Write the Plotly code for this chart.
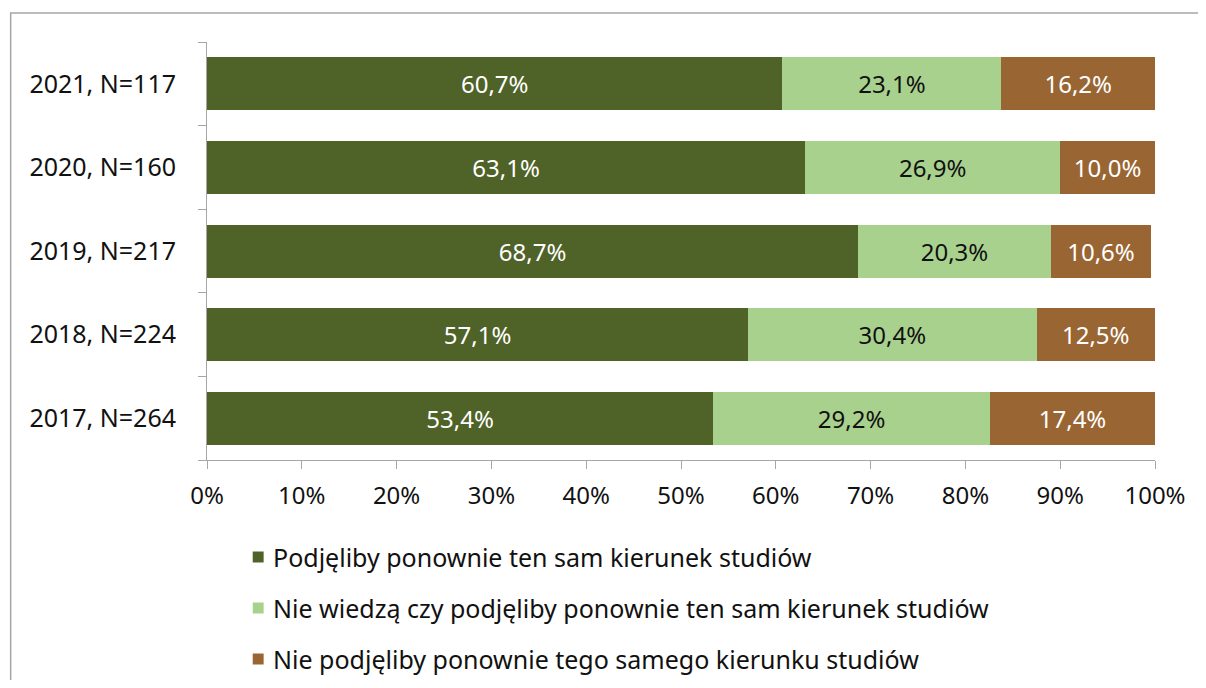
import plotly.graph_objects as go

categories = ["2017, N=264", "2018, N=224", "2019, N=217", "2020, N=160", "2021, N=117"]
series_names = [
    "Podjęliby ponownie ten sam kierunek studiów",
    "Nie wiedzą czy podjęliby ponownie ten sam kierunek studiów",
    "Nie podjęliby ponownie tego samego kierunku studiów",
]
same = [53.4, 57.1, 68.7, 63.1, 60.7]
unsure = [29.2, 30.4, 20.3, 26.9, 23.1]
not_again = [17.4, 12.5, 10.6, 10.0, 16.2]
x_ticks = [0, 10, 20, 30, 40, 50, 60, 70, 80, 90, 100]
x_tick_labels = [f"{v}%" for v in x_ticks]

colors = ["#4F6228", "#A9D18E", "#996633"]
text_colors = ["#FFFFFF", "#111111", "#FFFFFF"]
FONT = "Noto Sans"
FS = 24
TXT = "#111111"

# figure geometry (page body adds an 8px margin)
W, H = 1190, 672
ML, MR, MT, MB = 199, 37, 34, 220
plot_w = W - ML - MR
plot_h = H - MT - MB

fig = go.Figure()
for i, (name, vals) in enumerate(zip(series_names, [same, unsure, not_again])):
    fig.add_trace(go.Bar(
        y=categories, x=vals, name=name, orientation="h",
        marker=dict(color=colors[i], line=dict(width=0)),
        text=[f"{v:.1f}%".replace(".", ",") for v in vals],
        textposition="inside", insidetextanchor="middle",
        textfont=dict(family=FONT, size=FS, color=text_colors[i]),
        constraintext="none",
        showlegend=False,
        hoverinfo="skip",
    ))

# outer chart border
shapes = [dict(
    type="rect", xref="paper", yref="paper",
    x0=-0.2071, x1=1.2, y0=-1.0, y1=1.0694,
    line=dict(color="#a6a6a6", width=1.5), fillcolor="rgba(0,0,0,0)",
    layer="below",
)]
# manual legend (vertical list below the plot)
annotations = []
leg_marker_x0 = 245
leg_marker_size = 11
leg_text_x = 263
leg_first_y = 549
leg_step = 51
for i, name in enumerate(series_names):
    cy = leg_first_y + i * leg_step
    py = (plot_h + MT - cy) / plot_h
    half = (leg_marker_size / 2) / plot_h
    shapes.append(dict(
        type="rect", xref="paper", yref="paper",
        x0=(leg_marker_x0 - ML) / plot_w,
        x1=(leg_marker_x0 + leg_marker_size - ML) / plot_w,
        y0=py - half, y1=py + half,
        line=dict(width=0), fillcolor=colors[i],
    ))
    annotations.append(dict(
        xref="paper", yref="paper",
        x=(leg_text_x - ML) / plot_w, y=py,
        xanchor="left", yanchor="middle",
        text=name, showarrow=False,
        font=dict(family=FONT, size=25, color=TXT),
    ))

fig.update_layout(
    barmode="stack",
    bargap=0.366,
    width=W, height=H,
    margin=dict(l=ML, r=MR, t=MT, b=MB),
    paper_bgcolor="white", plot_bgcolor="white",
    font=dict(family=FONT, size=FS, color=TXT),
    showlegend=False,
    xaxis=dict(
        range=[0, 100], tickvals=x_ticks, ticktext=x_tick_labels,
        showgrid=False, zeroline=False,
        showline=True, linecolor="#a6a6a6", linewidth=1,
        ticks="outside", ticklen=8, tickcolor="#a6a6a6",
        tickfont=dict(family=FONT, size=FS, color=TXT),
        ticklabelstandoff=6,
        fixedrange=True,
    ),
    yaxis=dict(
        type="category", categoryorder="array", categoryarray=categories,
        showgrid=False, zeroline=False,
        showline=True, linecolor="#a6a6a6", linewidth=1,
        ticks="outside", ticklen=8, tickcolor="#a6a6a6",
        tickson="boundaries",
        tickfont=dict(family=FONT, size=25, color=TXT),
        ticklabelstandoff=25,
        fixedrange=True,
    ),
    shapes=shapes,
    annotations=annotations,
)

fig.write_html("out.html")
